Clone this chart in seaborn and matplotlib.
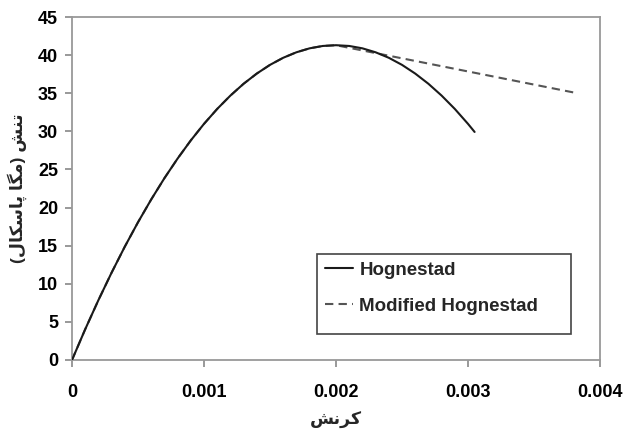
import numpy as np
import pandas as pd
import matplotlib
matplotlib.use("Agg")
import matplotlib.pyplot as plt
import seaborn as sns
from matplotlib.lines import Line2D
from matplotlib.patches import Rectangle

# ---- data ----
strain_h = [0, 0.0001, 0.0002, 0.0003, 0.0004, 0.0005, 0.0006, 0.0007, 0.0008, 0.0009,
            0.0010, 0.0011, 0.0012, 0.0013, 0.0014, 0.0015, 0.0016, 0.0017, 0.0018, 0.0019,
            0.0020, 0.0021, 0.0022, 0.0023, 0.0024, 0.0025, 0.0026, 0.0027, 0.0028, 0.0029,
            0.0030, 0.00305]
stress_h = [0, 4.03, 7.85, 11.46, 14.87, 18.07, 21.06, 23.85, 26.43, 28.81,
            30.98, 32.94, 34.69, 36.24, 37.58, 38.72, 39.65, 40.37, 40.89, 41.20,
            41.30, 41.20, 40.89, 40.37, 39.65, 38.72, 37.58, 36.24, 34.69, 32.94,
            30.98, 29.92]

strain_m = [0, 0.0001, 0.0002, 0.0003, 0.0004, 0.0005, 0.0006, 0.0007, 0.0008, 0.0009,
            0.0010, 0.0011, 0.0012, 0.0013, 0.0014, 0.0015, 0.0016, 0.0017, 0.0018, 0.0019,
            0.0020, 0.0038]
stress_m = [0, 4.03, 7.85, 11.46, 14.87, 18.07, 21.06, 23.85, 26.43, 28.81,
            30.98, 32.94, 34.69, 36.24, 37.58, 38.72, 39.65, 40.37, 40.89, 41.20,
            41.30, 35.10]

series_names = ["Hognestad", "Modified Hognestad"]
x_ticks = [0, 0.001, 0.002, 0.003, 0.004]
x_tick_labels = ["0", "0.001", "0.002", "0.003", "0.004"]
y_ticks = [0, 5, 10, 15, 20, 25, 30, 35, 40, 45]

# Persian labels, pre-shaped (presentation forms, visual order)
x_label = "\uFEB6\uFEE7\uFEAE\uFB90"  # کرنش
y_label = ("(" + "\uFEDD\uFE8E\uFB91\uFEB3\uFE8E\uFB58" + " " + "\uFE8E\uFB95\uFEE3" + ")"
           + " " + "\uFEB6\uFEE8\uFE97")  # تنش (مگا پاسکال)

df = pd.concat([
    pd.DataFrame({"strain": strain_h, "stress": stress_h, "series": series_names[0]}),
    pd.DataFrame({"strain": strain_m, "stress": stress_m, "series": series_names[1]}),
], ignore_index=True)

sns.set_theme(style="white")
plt.rcParams["font.family"] = ["Liberation Sans", "DejaVu Sans"]

W, H = 624, 432
L, R, T, B = 72, 600, 17, 360
fig = plt.figure(figsize=(W / 100, H / 100), dpi=100)
ax = fig.add_axes([L / W, 1 - B / H, (R - L) / W, (B - T) / H])

DASH = [4, 2.5]
sns.lineplot(data=df[df.series == series_names[1]], x="strain", y="stress", ax=ax,
             color="#555555", lw=1.5, sort=False, estimator=None, zorder=2)
ax.lines[-1].set_dashes(DASH)
sns.lineplot(data=df[df.series == series_names[0]], x="strain", y="stress", ax=ax,
             color="#1a1a1a", lw=1.5, sort=False, estimator=None, zorder=3)

ax.set_xlim(0, 0.004)
ax.set_ylim(0, 45)
ax.set_xticks(x_ticks)
ax.set_xticklabels(x_tick_labels)
ax.set_yticks(y_ticks)
for lab in ax.get_xticklabels() + ax.get_yticklabels():
    lab.set_fontweight("bold")
    lab.set_fontsize(13)
    lab.set_color("black")
ax.tick_params(axis="both", which="major", direction="out", length=5, width=1.2,
               color="#888888", bottom=True, left=True, pad=5)
ax.tick_params(axis="x", pad=12)

for s in ax.spines.values():
    s.set_visible(True)
    s.set_color("#999999")
    s.set_linewidth(1.3)

ax.set_xlabel(x_label, fontsize=12.5, fontweight="bold", labelpad=8)
ax.set_ylabel(y_label, fontsize=12.5, fontweight="bold", labelpad=8)

# legend box (pixel bounds)
lx0, lx1, ly0, ly1 = 317, 571, 254, 334
def to_ax(px, py):
    return (px - L) / (R - L), (B - py) / (B - T)
bx0, by0 = to_ax(lx0, ly1)
bx1, by1 = to_ax(lx1, ly0)
ax.add_patch(Rectangle((bx0, by0), bx1 - bx0, by1 - by0, transform=ax.transAxes,
                       fill=True, facecolor="white", edgecolor="#444444", lw=1.2, zorder=4))
handles = [Line2D([], [], color="#1a1a1a", lw=1.5),
           Line2D([], [], color="#555555", lw=1.5, dashes=DASH)]
leg = ax.legend(handles, series_names, loc="upper left",
                bbox_to_anchor=to_ax(lx0 + 2, ly0 + 2),
                frameon=False, prop={"weight": "bold", "size": 13.5},
                handlelength=1.5, handletextpad=0.35, labelspacing=1.0, borderpad=0.3,
                borderaxespad=0)
leg.set_zorder(5)

fig.savefig("out.png", dpi=100)
